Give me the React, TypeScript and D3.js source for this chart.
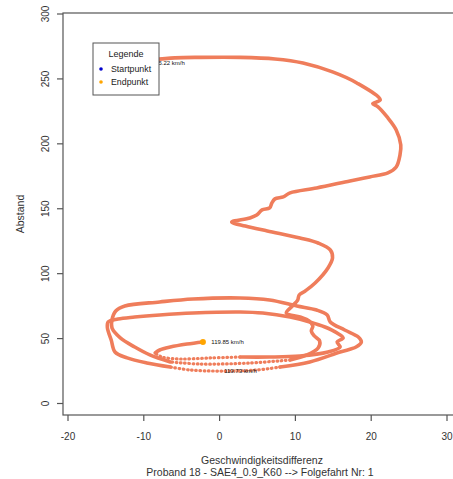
import React, { useRef, useEffect } from 'react';
import * as d3 from 'd3';

// Trajectory: speed difference (km/h) vs. distance (m), in recording order
const speedDiff = [
  -8.9, -5.9, -2.6, 2.7, 7.3, 11.0, 14.9, 18.1, 21.2, 20.2, 20.9, 22.1, 23.3, 23.9, 23.8, 23.3,
  22.2, 19.8, 17.2, 12.8, 9.3, 8.4, 7.3, 6.9, 6.6, 5.6, 4.9, 4.0, 1.6, 3.4, 6.3, 10.6,
  13.0, 14.6, 14.9, 14.3, 12.6, 11.3, 10.5, 10.3, 9.6, 8.8,
  10.6, 11.8, 12.3, 12.1, 12.5, 13.2, 13.0, 11.5, 9.3,
  4.0, -2.6, -6.5, -9.2, -11.2, -13.1, -14.2,
  -14.2, -13.7, -12.5,
  -7.9, -3.5, 2.7, 6.6, 10.2, 12.8, 14.2, 14.6,
  16.5, 18.3, 18.7, 18.0, 15.9, 11.9, 8.0, 4.9,
  0.1, -3.9, -6.5, -9.6, -12.2, -13.8, -14.3, -14.8, -14.7,
  -13.4, -11.2, -7.9, -3.5, 2.7, 5.7, 9.3,
  11.9, 13.9, 15.5, 16.3, 15.5, 15.9, 14.3, 10.6,
  6.6, 2.7, -1.3, -5.2, -7.6, -8.5,
  -7.9, -6.5, -4.3, -2.2,
];

const distance = [
  264.6, 266.2, 266.6, 266.6, 265.4, 262.3, 255.4, 246.9, 233.8, 231.0, 228.5, 220.7, 210.7, 199.2, 191.5, 182.2,
  177.6, 174.5, 171.4, 166.0, 162.2, 159.1, 157.6, 154.5, 150.6, 149.1, 145.2, 142.9, 139.8, 136.7, 132.9, 127.5,
  123.6, 118.3, 112.1, 104.4, 92.8, 86.7, 83.6, 79.7, 75.1, 69.7,
  66.6, 63.6, 59.7, 55.9, 52.0, 48.2, 42.8, 37.4, 33.5,
  31.2, 30.4, 32.0, 37.4, 43.5, 50.5, 58.2,
  64.3, 71.3, 75.1,
  78.2, 80.5, 81.3, 79.7, 75.1, 72.0, 68.2, 62.8,
  56.6, 51.2, 47.4, 43.5, 39.7, 32.0, 28.1, 25.8,
  25.0, 25.8, 28.1, 31.2, 35.1, 39.7, 48.9, 58.2, 62.8,
  65.1, 66.6, 68.2, 69.7, 70.5, 69.7, 66.6,
  62.8, 58.9, 54.3, 50.5, 47.4, 43.5, 39.7, 36.6,
  35.8, 35.8, 35.1, 34.3, 35.8, 38.9,
  41.2, 43.5, 45.8, 47.4,
];

// index ranges where the samples are sparse (drawn as dots)
const sparseFrom = [50, 75, 102];
const sparseTo = [53, 79, 106];

// speed labels
const labelX = [-8.5, -1.1, 0.6];
const labelY = [262.3, 47.0, 25.0];
const labelText = ['85.22 km/h', '119.85 km/h', '119.73 km/h'];

const xTicks = [-20, -10, 0, 10, 20, 30];
const yTicks = [0, 50, 100, 150, 200, 250, 300];

const legendItems = ['Startpunkt', 'Endpunkt'];
const legendColors = ['#0000CD', '#FFA500'];

const FONT = '"Liberation Sans", Arial, sans-serif';
const LINE = '#EF7D5B';

function App() {
  const svgRef = useRef(null);

  useEffect(() => {
    const svg = d3.select(svgRef.current);
    svg.selectAll('*').remove();

    const x = d3.scaleLinear().domain([-20, 30]).range([68, 447]);
    const y = d3.scaleLinear().domain([0, 300]).range([403.5, 14]);

    const left = 63, top = 13, bottom = 415, right = 462;

    // plot box (right edge falls outside the picture)
    svg.append('rect')
      .attr('x', left).attr('y', top)
      .attr('width', right - left).attr('height', bottom - top)
      .attr('fill', 'none').attr('stroke', '#555').attr('stroke-width', 1.2);

    // x axis ticks + labels
    const xa = svg.append('g');
    xTicks.forEach(t => {
      xa.append('line')
        .attr('x1', x(t)).attr('x2', x(t)).attr('y1', bottom).attr('y2', bottom + 6)
        .attr('stroke', '#555').attr('stroke-width', 1.2);
      xa.append('text')
        .attr('x', x(t)).attr('y', 440)
        .attr('text-anchor', 'middle')
        .attr('font-family', FONT).attr('font-size', 10).attr('fill', '#333')
        .text(t);
    });

    // y axis ticks + rotated labels
    const ya = svg.append('g');
    yTicks.forEach(t => {
      ya.append('line')
        .attr('x1', left - 6).attr('x2', left).attr('y1', y(t)).attr('y2', y(t))
        .attr('stroke', '#555').attr('stroke-width', 1.2);
      ya.append('text')
        .attr('transform', `translate(49,${y(t)}) rotate(-90)`)
        .attr('text-anchor', 'middle')
        .attr('font-family', FONT).attr('font-size', 10).attr('fill', '#333')
        .text(t);
    });

    // axis titles
    svg.append('text')
      .attr('transform', `translate(24,214) rotate(-90)`)
      .attr('text-anchor', 'middle')
      .attr('font-family', FONT).attr('font-size', 10.5).attr('fill', '#333')
      .text('Abstand');
    svg.append('text')
      .attr('x', 262).attr('y', 464)
      .attr('text-anchor', 'middle')
      .attr('font-family', FONT).attr('font-size', 10.5).attr('fill', '#333')
      .text('Geschwindigkeitsdifferenz');
    svg.append('text')
      .attr('x', 260).attr('y', 476)
      .attr('text-anchor', 'middle')
      .attr('font-family', FONT).attr('font-size', 10.5).attr('fill', '#333')
      .text('Proband 18 - SAE4_0.9_K60 --> Folgefahrt Nr: 1');

    // trajectory, split into dense (solid) and sparse (dotted) runs
    const pts = speedDiff.map((v, i) => [v, distance[i]]);
    const line = d3.line()
      .x(d => x(d[0]))
      .y(d => y(d[1]))
      .curve(d3.curveCatmullRom.alpha(0.5));

    const runs = [];
    let start = 0;
    sparseFrom.forEach((from, k) => {
      runs.push({ pts: pts.slice(start, from + 1), sparse: false });
      runs.push({ pts: pts.slice(from, sparseTo[k] + 1), sparse: true });
      start = sparseTo[k];
    });
    runs.push({ pts: pts.slice(start), sparse: false });

    runs.forEach(r => {
      svg.append('path')
        .datum(r.pts)
        .attr('d', line)
        .attr('fill', 'none')
        .attr('stroke', LINE)
        .attr('stroke-width', r.sparse ? 3.2 : 3.6)
        .attr('stroke-linecap', 'round')
        .attr('stroke-linejoin', 'round')
        .attr('stroke-dasharray', r.sparse ? '0.6 3.6' : null);
    });

    // start / end markers
    svg.append('circle')
      .attr('cx', x(speedDiff[0])).attr('cy', y(distance[0])).attr('r', 2.5)
      .attr('fill', legendColors[0]);
    const last = speedDiff.length - 1;
    svg.append('circle')
      .attr('cx', x(speedDiff[last])).attr('cy', y(distance[last])).attr('r', 3)
      .attr('fill', legendColors[1]);

    // speed labels
    labelText.forEach((t, i) => {
      svg.append('text')
        .attr('x', x(labelX[i])).attr('y', y(labelY[i]) + 2)
        .attr('font-family', FONT).attr('font-size', 6).attr('fill', '#111')
        .text(t);
    });

    // legend
    const lg = svg.append('g');
    lg.append('rect')
      .attr('x', 93).attr('y', 43).attr('width', 66).attr('height', 52)
      .attr('fill', '#fff').attr('stroke', '#555').attr('stroke-width', 1);
    lg.append('text')
      .attr('x', 126).attr('y', 57)
      .attr('text-anchor', 'middle')
      .attr('font-family', FONT).attr('font-size', 9).attr('fill', '#222')
      .text('Legende');
    legendItems.forEach((t, i) => {
      lg.append('circle')
        .attr('cx', 101).attr('cy', 69 + i * 13).attr('r', 1.8)
        .attr('fill', legendColors[i]);
      lg.append('text')
        .attr('x', 111).attr('y', 72 + i * 13)
        .attr('font-family', FONT).attr('font-size', 8.8).attr('fill', '#222')
        .text(t);
    });
  }, []);

  return (
    <svg
      ref={svgRef}
      width={453}
      height={479}
      style={{ position: 'absolute', left: 0, top: 0, background: '#fff' }}
    />
  );
}

export default App;
